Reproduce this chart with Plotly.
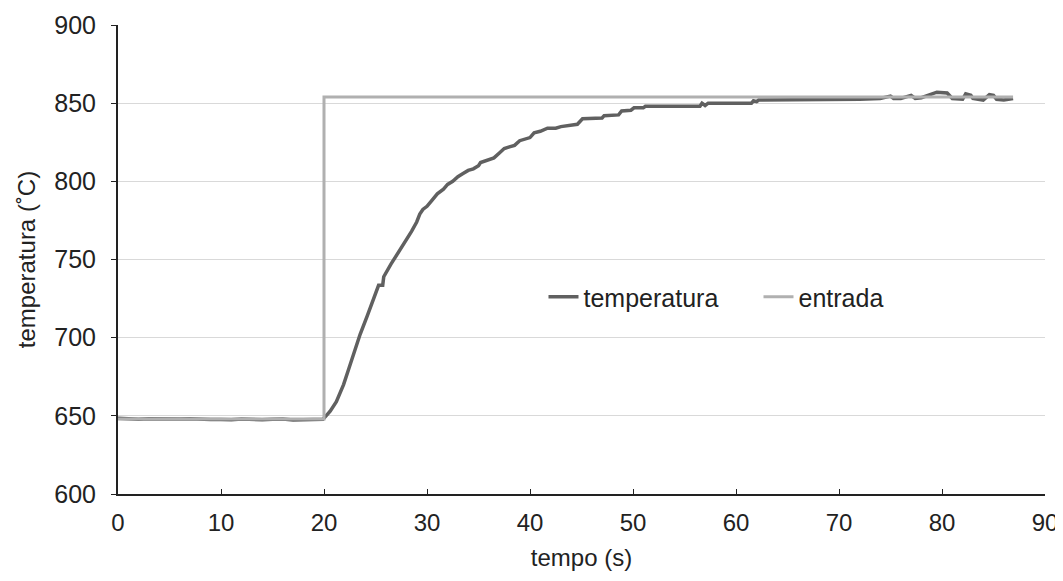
import plotly.graph_objects as go

# temperatura series (time s, value °C)
temp_t = [0, 1, 2, 3, 4, 5, 6, 7, 8, 9, 10, 11, 12, 13, 14, 15, 16, 17, 18, 19, 19.9,
          20.2, 20.6, 21.2, 21.9, 22.4, 22.8, 23.5, 24.2, 24.6, 25, 25.3, 25.7, 25.8,
          26.5, 27.1, 27.4, 28, 28.5, 29, 29.3, 29.6, 30, 30.5, 31, 31.6, 32, 32.5,
          33, 33.5, 34, 34.5, 35, 35.2, 36, 36.5, 37, 37.5, 38, 38.5, 39, 39.5,
          40, 40.4, 41, 41.7, 42.5, 43, 44, 44.6, 45.1, 47, 47.2, 48.6, 48.9, 49.8,
          50.1, 51, 51.2, 56.5, 56.7, 57, 57.3, 61.5, 61.7, 62, 62.2, 66, 70, 72,
          74, 75, 75.3, 76, 77, 77.4, 78, 79, 79.5, 80.5, 81, 82, 82.3, 82.8, 83,
          84, 84.6, 85, 85.3, 86, 86.9]
temp_v = [648.5, 647.9, 647.8, 648.2, 648.1, 647.6, 647.9, 648.1, 647.7, 647.6, 647.7, 647.5, 648.0, 647.6, 647.5, 647.8, 647.9, 647.4, 647.4, 647.6, 647.8,
          650, 653, 659, 670, 680, 688.5, 702, 714, 721, 728, 733.5, 733.5, 739,
          747, 753, 756, 763, 768, 774, 779, 782, 784, 788, 792, 795, 798, 800,
          803, 805, 807, 808, 810, 812, 814, 815, 818, 821, 822, 823, 826, 827,
          828, 831, 832, 834, 834, 835, 836, 836.5, 840, 840.5, 842, 842.5, 845, 845.5,
          847, 847, 848, 848, 850, 848.5, 850, 850, 851.5, 851, 852, 852, 852, 852.5,
          853, 854.5, 853, 853, 855, 853, 853.5, 856, 857, 856.5, 853, 852.5, 856, 855, 853,
          852, 855.5, 855, 852.5, 852, 853]

# entrada series (step input)
entr_t = [0, 20, 20, 86.9]
entr_v = [648, 648, 854, 854]

x_ticks = [0, 10, 20, 30, 40, 50, 60, 70, 80, 90]
y_ticks = [600, 650, 700, 750, 800, 850, 900]

font = "Liberation Sans, Arial, sans-serif"
fs = 24

fig = go.Figure()
fig.add_trace(go.Scatter(x=temp_t, y=temp_v, mode="lines", name="temperatura",
                         line=dict(color="#606060", width=3.5)))
fig.add_trace(go.Scatter(x=entr_t, y=entr_v, mode="lines", name="entrada",
                         line=dict(color="#b0b0b0", width=3)))

fig.update_layout(
    width=1063, height=581,
    margin=dict(l=110, r=26, t=17, b=95),
    paper_bgcolor="white", plot_bgcolor="white",
    font=dict(family=font, size=fs, color="#222222"),
    showlegend=True,
    legend=dict(orientation="h", x=0.459, y=0.42, xanchor="left", yanchor="middle",
                bgcolor="rgba(0,0,0,0)", font=dict(size=25),
                entrywidth=170, tracegroupgap=0),
    xaxis=dict(range=[0, 90], tickvals=x_ticks, ticks="inside", ticklen=5,
               tickcolor="#222222", showline=True, linecolor="#222222", linewidth=2,
               showgrid=False, zeroline=False, automargin=False,
               title=dict(text="tempo (s)", standoff=14, font=dict(size=fs)),
               ticklabelstandoff=6),
    yaxis=dict(range=[600, 900], tickvals=y_ticks, ticks="outside", ticklen=5,
               tickcolor="#222222", showline=True, linecolor="#222222", linewidth=2,
               showgrid=True, gridcolor="#d9d9d9", gridwidth=1, zeroline=False,
               automargin=False, tickfont=dict(size=25),
               title=dict(text="temperatura (˚C)", standoff=12, font=dict(size=fs)),
               ticklabelstandoff=10),
)

fig.write_html("out.html")
